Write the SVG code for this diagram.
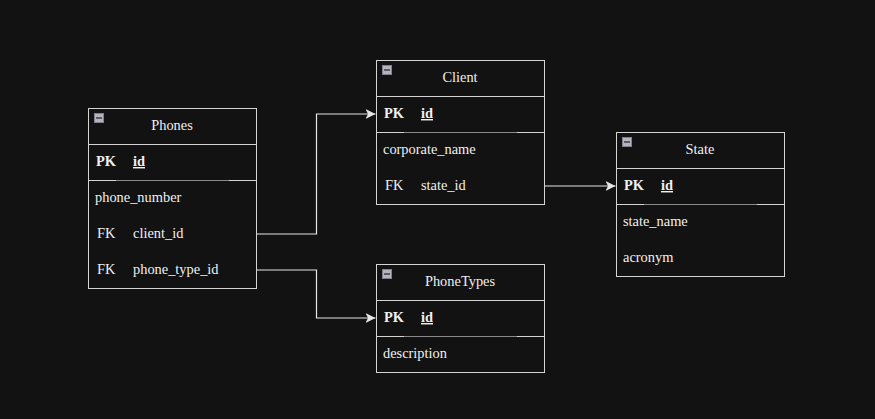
<svg xmlns="http://www.w3.org/2000/svg" width="875" height="419" viewBox="0 0 875 419">
<style>
.box{fill:#121212;stroke:#d4d4d4;stroke-width:1}
.sep{stroke:#d4d4d4;stroke-width:1}
.sepm{stroke:#8a8a8a;stroke-width:1}
text{font-family:"Liberation Serif","Times New Roman",serif;font-size:14.4px;fill:#f0f0f0}
.title{text-anchor:middle}
.b{font-weight:bold}
.u{text-decoration:underline}
.ic{fill:#b4b4c0;stroke:#80808e;stroke-width:1}
.icl{stroke:#222;stroke-width:1.2}
.conn{fill:none;stroke:#e6e6e6;stroke-width:1.2}
</style>
<defs>
<marker id="arr" viewBox="0 0 10 10" refX="10" refY="5" markerWidth="10" markerHeight="10" markerUnits="userSpaceOnUse" orient="auto">
<path d="M0,0 L10,5 L0,10 L2.5,5 Z" fill="#e6e6e6"/>
</marker>
</defs>
<rect width="875" height="419" fill="#121212"/>

<g id="connectors">
<path class="conn" d="M256.5,234 H316.5 V114 H375.5" marker-end="url(#arr)"/>
<path class="conn" d="M256.5,270 H316.5 V318 H375.5" marker-end="url(#arr)"/>
<path class="conn" d="M544.5,186 H615.5" marker-end="url(#arr)"/>
</g>

<g id="phones">
<rect class="box" x="88.5" y="108.5" width="168" height="180"/>
<line class="sep" x1="88.5" y1="144.5" x2="256.5" y2="144.5"/>
<line class="sep" x1="88.5" y1="180.5" x2="256.5" y2="180.5"/>
<line class="sepm" x1="116" y1="180.5" x2="229" y2="180.5"/>
<rect class="ic" x="94.5" y="113.5" width="9" height="9"/>
<line class="icl" x1="96" y1="118" x2="102" y2="118"/>
<text class="title" x="172" y="130">Phones</text>
<text class="b" x="96" y="166">PK</text>
<text class="b u" x="133" y="166">id</text>
<text x="95" y="202">phone_number</text>
<text x="97" y="238">FK</text>
<text x="133" y="238">client_id</text>
<text x="97" y="274">FK</text>
<text x="133" y="274">phone_type_id</text>
</g>

<g id="client">
<rect class="box" x="376.5" y="60.5" width="168" height="144"/>
<line class="sep" x1="376.5" y1="96.5" x2="544.5" y2="96.5"/>
<line class="sep" x1="376.5" y1="132.5" x2="544.5" y2="132.5"/>
<line class="sepm" x1="404" y1="132.5" x2="517" y2="132.5"/>
<rect class="ic" x="382.5" y="65.5" width="9" height="9"/>
<line class="icl" x1="384" y1="70" x2="390" y2="70"/>
<text class="title" x="460" y="82">Client</text>
<text class="b" x="384" y="118">PK</text>
<text class="b u" x="421" y="118">id</text>
<text x="383" y="154">corporate_name</text>
<text x="385" y="190">FK</text>
<text x="421" y="190">state_id</text>
</g>

<g id="state">
<rect class="box" x="616.5" y="132.5" width="168" height="144"/>
<line class="sep" x1="616.5" y1="168.5" x2="784.5" y2="168.5"/>
<line class="sep" x1="616.5" y1="204.5" x2="784.5" y2="204.5"/>
<line class="sepm" x1="644" y1="204.5" x2="757" y2="204.5"/>
<rect class="ic" x="622.5" y="137.5" width="9" height="9"/>
<line class="icl" x1="624" y1="142" x2="630" y2="142"/>
<text class="title" x="700" y="154">State</text>
<text class="b" x="624" y="190">PK</text>
<text class="b u" x="661" y="190">id</text>
<text x="623" y="226">state_name</text>
<text x="623" y="262">acronym</text>
</g>

<g id="phonetypes">
<rect class="box" x="376.5" y="264.5" width="168" height="108"/>
<line class="sep" x1="376.5" y1="300.5" x2="544.5" y2="300.5"/>
<line class="sep" x1="376.5" y1="336.5" x2="544.5" y2="336.5"/>
<line class="sepm" x1="404" y1="336.5" x2="517" y2="336.5"/>
<rect class="ic" x="382.5" y="269.5" width="9" height="9"/>
<line class="icl" x1="384" y1="274" x2="390" y2="274"/>
<text class="title" x="460" y="286">PhoneTypes</text>
<text class="b" x="384" y="322">PK</text>
<text class="b u" x="421" y="322">id</text>
<text x="383" y="358">description</text>
</g>
</svg>
